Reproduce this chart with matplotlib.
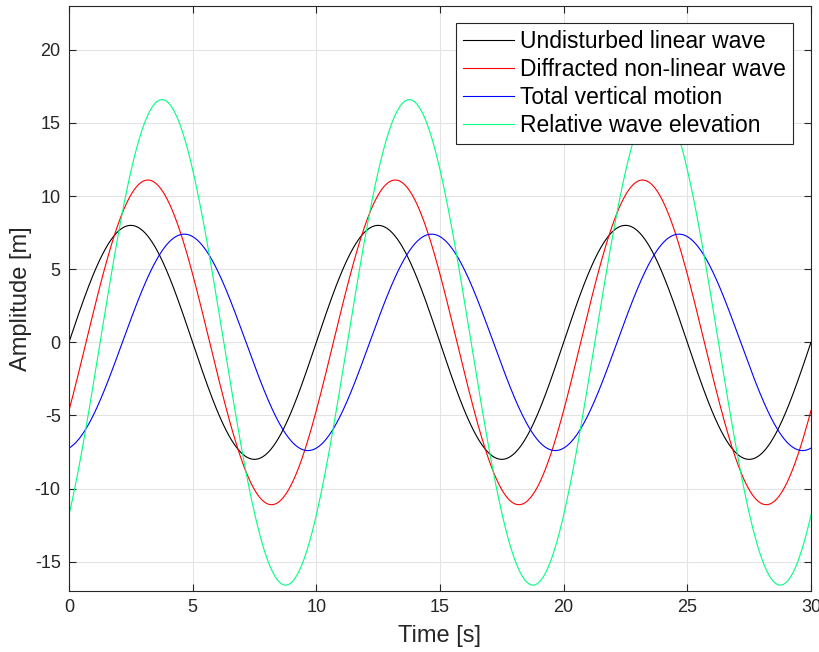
import numpy as np
import matplotlib
matplotlib.use('Agg')
from matplotlib import pyplot as plt

plt.rcParams['font.family'] = ['Liberation Sans', 'DejaVu Sans']
plt.rcParams['axes.unicode_minus'] = False

# waves: amplitude [m] and time of first crest [s]
labels = ['Undisturbed linear wave', 'Diffracted non-linear wave',
          'Total vertical motion', 'Relative wave elevation']
amplitudes = [8.0, 11.1, 7.4, 16.6]
crest_times = [2.5, 3.19, 4.66, 3.76]
period = 10.0
colors = ['black', '#ff0000', '#0000ff', '#00ff80']

t = np.linspace(0, 30, 1500)

fig = plt.figure(figsize=(8.2, 6.52), dpi=100)
ax = fig.add_axes([0.0841, 0.0936, 0.9049, 0.8972])

for lab, a, tc, c in zip(labels, amplitudes, crest_times, colors):
    y = a * np.sin(2 * np.pi * (t - tc) / period + np.pi / 2)
    ax.plot(t, y, color=c, lw=0.8, label=lab)

ax.set_xlim(0, 30)
ax.set_ylim(-17, 23)
ax.set_xticks(np.arange(0, 31, 5))
ax.set_yticks(np.arange(-15, 21, 5))
ax.grid(True, color='#e3e3e3', lw=0.8)
ax.set_axisbelow(True)
ax.tick_params(direction='in', top=True, right=True, length=5, width=0.8,
               colors='#262626', labelsize=13, pad=6)
for s in ax.spines.values():
    s.set_color('#262626')
    s.set_linewidth(0.8)

ax.set_xlabel('Time [s]', fontsize=17, color='#262626', labelpad=6)
ax.set_ylabel('Amplitude [m]', fontsize=17, color='#262626', labelpad=2)

leg = ax.legend(loc='upper right', bbox_to_anchor=(0.976, 0.971), borderaxespad=0,
                fontsize=16.5, handlelength=2.2, handletextpad=0.3, labelspacing=0.22,
                borderpad=0.3, fancybox=False, framealpha=1, edgecolor='#262626')
leg.get_frame().set_linewidth(0.8)

fig.savefig('out.png', dpi=100)
